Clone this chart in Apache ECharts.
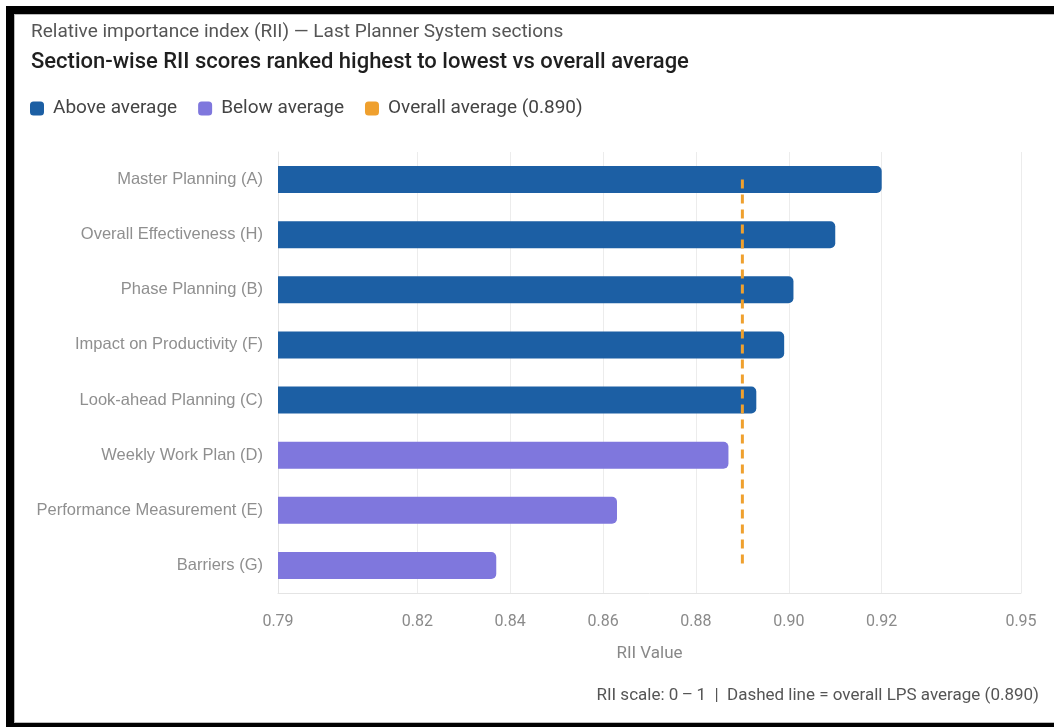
<!DOCTYPE html>
<html>
<head>
<meta charset="utf-8">
<title>Section-wise RII scores</title>
<script src="https://cdn.jsdelivr.net/npm/echarts@6/dist/echarts.min.js"></script>
<style>
  html, body { margin: 0; padding: 0; background: #fff; overflow: hidden; }
  #chart { position: absolute; left: 0; top: 0; width: 1054px; height: 727px; }
  #frame {
    position: absolute; left: 6px; top: 6px; width: 1100px; height: 709px;
    border: 8px solid #000; pointer-events: none;
    box-shadow: inset 1px 1px 0 #bbb, inset 0 -1px 0 #bbb;
  }
</style>
</head>
<body>
<div id="chart"></div>
<div id="frame"></div>
<script>
// LPS sections, ordered from highest to lowest RII
const sections = [
  'Master Planning (A)',
  'Overall Effectiveness (H)',
  'Phase Planning (B)',
  'Impact on Productivity (F)',
  'Look-ahead Planning (C)',
  'Weekly Work Plan (D)',
  'Performance Measurement (E)',
  'Barriers (G)'
];
const riiValues = [0.920, 0.910, 0.901, 0.899, 0.893, 0.887, 0.863, 0.837];
const overallAverage = 0.890;
const axisTickValues = [0.79, 0.82, 0.84, 0.86, 0.88, 0.90, 0.92, 0.95];
const axisMin = 0.79;
const axisMax = 0.95;

const COLOR_ABOVE = '#1c5fa4';
const COLOR_BELOW = '#7f77dd';
const COLOR_AVG = '#efa02e';

const aboveData = riiValues.map(v => (v > overallAverage ? v : '-'));
const belowData = riiValues.map(v => (v <= overallAverage ? v : '-'));
const avgLine = [
  [overallAverage, sections[0]],
  [overallAverage, sections[sections.length - 1]]
];

const chart = echarts.init(document.getElementById('chart'), null, { renderer: 'canvas' });

const textFont = 'Roboto, "Noto Sans", sans-serif';

chart.setOption({
  backgroundColor: '#fff',
  animation: false,
  title: [
    {
      text: 'Relative importance index (RII) \u2014 Last Planner System sections',
      left: 26, top: 18,
      textStyle: { fontFamily: textFont, fontSize: 19, fontWeight: 'normal', color: '#555' }
    },
    {
      text: 'Section-wise RII scores ranked highest to lowest vs overall average',
      left: 26, top: 46,
      textStyle: { fontFamily: textFont, fontSize: 22, fontWeight: 500, color: '#1f1f1f' }
    },
    {
      text: 'RII scale: 0\u2009\u2013\u20091  |  Dashed line = overall LPS average (0.890)',
      right: 10, top: 682,
      textStyle: { fontFamily: textFont, fontSize: 17, fontWeight: 'normal', color: '#555' }
    }
  ],
  legend: {
    left: 25, top: 94,
    itemWidth: 14, itemHeight: 14, itemGap: 21,
    icon: 'roundRect',
    textStyle: { fontFamily: textFont, fontSize: 19, color: '#444', padding: [0, 0, 0, 4] },
    data: [
      { name: 'Above average', icon: 'roundRect' },
      { name: 'Below average', icon: 'roundRect' },
      { name: 'Overall average (0.890)', icon: 'roundRect', itemStyle: { color: COLOR_AVG } }
    ]
  },
  grid: { left: 278, right: 33, top: 152, bottom: 134, containLabel: false },
  xAxis: {
    type: 'value',
    min: axisMin,
    max: axisMax,
    name: 'RII Value',
    nameLocation: 'middle',
    nameGap: 52,
    nameTextStyle: { fontFamily: textFont, fontSize: 17, color: '#888' },
    axisLine: { show: true, lineStyle: { color: '#e4e4e4', width: 1 } },
    axisTick: { show: false, customValues: axisTickValues },
    axisLabel: {
      customValues: axisTickValues,
      margin: 21,
      fontFamily: textFont, fontSize: 16, color: '#8a8a8a',
      formatter: v => v.toFixed(2)
    },
    splitLine: { show: true, lineStyle: { color: '#ececec', width: 1 } }
  },
  yAxis: {
    type: 'category',
    inverse: true,
    data: sections,
    axisLine: { show: true, lineStyle: { color: '#e4e4e4', width: 1 } },
    axisTick: { show: false },
    axisLabel: {
      margin: 15,
      fontFamily: '"Liberation Sans", Arial, sans-serif', fontSize: 16.5, color: '#8f8f8f'
    },
    splitLine: { show: false }
  },
  series: [
    {
      name: 'Above average',
      type: 'bar',
      data: aboveData,
      barWidth: 27,
      barGap: '-100%',
      itemStyle: { color: COLOR_ABOVE, borderRadius: [0, 5, 5, 0] }
    },
    {
      name: 'Below average',
      type: 'bar',
      data: belowData,
      barWidth: 27,
      barGap: '-100%',
      itemStyle: { color: COLOR_BELOW, borderRadius: [0, 5, 5, 0] }
    },
    {
      name: 'Overall average (0.890)',
      type: 'line',
      data: avgLine,
      symbol: 'none',
      z: 5,
      itemStyle: { color: COLOR_AVG },
      lineStyle: { color: COLOR_AVG, width: 3, type: [9, 6] }
    }
  ]
});
</script>
</body>
</html>
